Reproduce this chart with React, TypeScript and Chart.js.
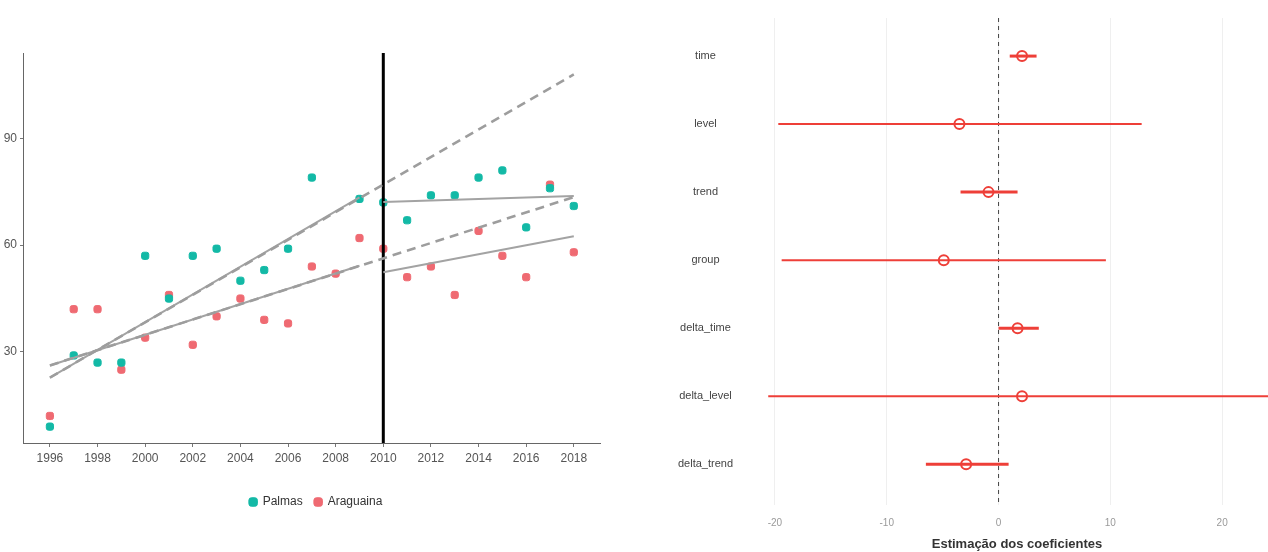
import React, { useEffect, useRef } from "react";
import { Chart, registerables } from "chart.js";

Chart.register(...registerables);

// ---------- Left panel: interrupted time series ----------
const years = [1996, 1997, 1998, 1999, 2000, 2001, 2002, 2003, 2004, 2005, 2006, 2007, 2008, 2009, 2010, 2011, 2012, 2013, 2014, 2015, 2016, 2017, 2018];
const palmas = [9, 29, 27, 27, 57, 45, 57, 59, 50, 53, 59, 79, null, 73, 72, 67, 74, 74, 79, 81, 65, 76, 71];
const araguaina = [12, 42, 42, 25, 34, 46, 32, 40, 45, 39, 38, 54, 52, 62, 59, 51, 54, 46, 64, 57, 51, 77, 58];

// fitted segments [year, value]
const palmasPre = [[1996, 22.8], [2009, 73.4]];
const palmasPost = [[2010, 72.1], [2018, 73.8]];
const palmasCounterfactual = [[1996, 22.8], [2018, 108]];
const araguainaPre = [[1996, 26.2], [2009, 54.2]];
const araguainaPost = [[2010, 52.4], [2018, 62.5]];
const araguainaCounterfactual = [[1996, 26.2], [2018, 73.5]];

const interventionYear = 2010;
const xTicksLeft = [1996, 1998, 2000, 2002, 2004, 2006, 2008, 2010, 2012, 2014, 2016, 2018];
const yTicksLeft = [30, 60, 90];
const leftXRange = [1994.87, 2019.1];
const leftYRange = [4.4, 114];

// ---------- Right panel: coefficient estimates ----------
const terms = ["time", "level", "trend", "group", "delta_time", "delta_level", "delta_trend"];
const estimates = [2.1, -3.5, -0.9, -4.9, 1.7, 2.1, -2.9];
const lowerCI = [1.0, -19.7, -3.4, -19.4, 0.0, -20.6, -6.5];
const upperCI = [3.4, 12.8, 1.7, 9.6, 3.6, 30, 0.9];
const xTicksRight = [-20, -10, 0, 10, 20];
const rightXRange = [-20.8, 24.1];
const rightYRange = [0.44, 7.6];

const TEAL = "#13b9a6";
const PINK = "#ef6a72";
const RED = "#ee3f38";
const GREY_LINE = "#a3a3a3";
const FONT = "'Liberation Sans', Arial, sans-serif";

const pts = (arr: number[][]) => arr.map(([x, y]) => ({ x, y }));

export default function App() {
  const leftRef = useRef<HTMLCanvasElement | null>(null);
  const rightRef = useRef<HTMLCanvasElement | null>(null);

  useEffect(() => {
    document.body.style.margin = "0";
    const lineDs = (label: string, arr: number[][], dashed: boolean, color = GREY_LINE, width = 2) => ({
      type: "line" as const,
      label,
      data: pts(arr),
      borderColor: color,
      borderWidth: width,
      borderDash: dashed ? [9, 6] : [],
      pointRadius: 0,
      fill: false,
      showLine: true,
    });

    const left = new Chart(leftRef.current!, {
      type: "scatter",
      data: {
        datasets: [
          lineDs("cf_p", palmasCounterfactual, true, "#9d9d9d", 2.6),
          lineDs("cf_a", araguainaCounterfactual, true, "#9d9d9d", 2.6),
          lineDs("pre_p", palmasPre, false),
          lineDs("post_p", palmasPost, false),
          lineDs("pre_a", araguainaPre, false),
          lineDs("post_a", araguainaPost, false),
          {
            type: "line" as const,
            label: "intervention",
            data: [
              { x: interventionYear, y: leftYRange[0] },
              { x: interventionYear, y: leftYRange[1] },
            ],
            borderColor: "#000",
            borderWidth: 3,
            pointRadius: 0,
          },
          {
            label: "Palmas",
            data: years.map((x, i) => ({ x, y: palmas[i] })).filter((p) => p.y !== null),
            backgroundColor: TEAL,
            borderColor: TEAL,
            pointStyle: "rectRounded",
            pointRadius: 4.2,
          },
          {
            label: "Araguaina",
            data: years.map((x, i) => ({ x, y: araguaina[i] })),
            backgroundColor: PINK,
            borderColor: PINK,
            pointStyle: "rectRounded",
            pointRadius: 4.2,
          },
        ] as any,
      },
      options: {
        animation: false,
        responsive: false,
        layout: { padding: { top: 53, right: 8, bottom: 34, left: 0 } },
        plugins: {
          tooltip: { enabled: false },
          legend: {
            position: "bottom",
            labels: {
              filter: (item: any) => item.text === "Palmas" || item.text === "Araguaina",
              usePointStyle: true,
              pointStyle: "rectRounded",
              boxWidth: 7,
              boxHeight: 7,
              padding: 12,
              color: "#333",
              font: { family: FONT, size: 12 },
            },
          },
        },
        scales: {
          x: {
            type: "linear",
            min: leftXRange[0],
            max: leftXRange[1],
            afterBuildTicks: (s: any) => {
              s.ticks = xTicksLeft.map((value) => ({ value }));
            },
            afterFit: (s: any) => {
              s.height = 41;
            },
            grid: { drawOnChartArea: false, drawTicks: true, tickLength: 4, color: "#777" },
            border: { display: true, color: "#666", width: 1 },
            ticks: { color: "#555", padding: 4, font: { family: FONT, size: 12 }, maxRotation: 0, callback: (v: any) => String(v) },
          },
          y: {
            type: "linear",
            min: leftYRange[0],
            max: leftYRange[1],
            afterBuildTicks: (s: any) => {
              s.ticks = yTicksLeft.map((value) => ({ value }));
            },
            afterFit: (s: any) => {
              s.width = 23;
            },
            grid: { drawOnChartArea: false, drawTicks: true, tickLength: 3, color: "#777" },
            border: { display: true, color: "#666", width: 1 },
            ticks: { color: "#555", padding: 3, font: { family: FONT, size: 12 } },
          },
          yRight: {
            type: "linear",
            position: "right",
            display: true,
            afterFit: (s: any) => {
              s.width = 32;
            },
            grid: { display: false },
            border: { display: false },
            ticks: { display: false },
          },
        },
      } as any,
    });

    // one segment per term for the confidence intervals
    const ciSets = terms.map((t, i) => ({
      type: "line" as const,
      label: t,
      data: [
        { x: lowerCI[i], y: i + 1 },
        { x: upperCI[i], y: i + 1 },
      ],
      borderColor: RED,
      borderWidth: upperCI[i] - lowerCI[i] < 10 ? 3 : 2,
      pointRadius: 0,
    }));

    const right = new Chart(rightRef.current!, {
      type: "scatter",
      data: {
        datasets: [
          ...ciSets,
          {
            type: "line" as const,
            label: "zero",
            data: [
              { x: 0, y: rightYRange[0] },
              { x: 0, y: rightYRange[1] },
            ],
            borderColor: "#444",
            borderWidth: 1,
            borderDash: [4, 4],
            pointRadius: 0,
          },
          {
            label: "estimate",
            data: estimates.map((x, i) => ({ x, y: i + 1 })),
            pointStyle: "circle",
            pointRadius: 5,
            backgroundColor: "#fff",
            borderColor: RED,
            borderWidth: 2,
          },
        ] as any,
      },
      options: {
        animation: false,
        responsive: false,
        layout: { autoPadding: false, padding: { top: 18, right: 0, bottom: 0, left: 0 } },
        plugins: { legend: { display: false }, tooltip: { enabled: false } },
        scales: {
          x: {
            type: "linear",
            min: rightXRange[0],
            max: rightXRange[1],
            afterBuildTicks: (s: any) => {
              s.ticks = xTicksRight.map((value) => ({ value }));
            },
            afterFit: (s: any) => {
              s.height = 47;
              s.paddingLeft = 0;
              s.paddingRight = 0;
            },
            grid: { drawOnChartArea: true, drawTicks: false, color: "#efefef", lineWidth: 1 },
            border: { display: false },
            ticks: { color: "#9a9a9a", padding: 12, font: { family: FONT, size: 10 } },
            title: {
              display: true,
              text: "Estimação dos coeficientes",
              color: "#333",
              padding: { top: 0, bottom: 0 },
              font: { family: FONT, size: 13, weight: "bold" },
            },
          },
          y: {
            type: "linear",
            reverse: true,
            min: rightYRange[0],
            max: rightYRange[1],
            afterBuildTicks: (s: any) => {
              s.ticks = terms.map((_, i) => ({ value: i + 1 }));
            },
            afterFit: (s: any) => {
              s.width = 126;
              s.paddingTop = 0;
              s.paddingBottom = 0;
            },
            grid: { display: false, drawTicks: false },
            border: { display: false },
            ticks: {
              color: "#444",
              padding: 33,
              crossAlign: "center",
              font: { family: FONT, size: 11 },
              callback: (v: any) => terms[Math.round(v) - 1] ?? "",
            },
          },
        },
      } as any,
    });

    return () => {
      left.destroy();
      right.destroy();
    };
  }, []);

  return (
    <div style={{ position: "relative", width: 1268, height: 552, background: "#fff", overflow: "hidden" }}>
      <canvas ref={leftRef} width={640} height={552} style={{ position: "absolute", left: 0, top: 0 }} />
      <canvas ref={rightRef} width={628} height={552} style={{ position: "absolute", left: 640, top: 0 }} />
    </div>
  );
}
